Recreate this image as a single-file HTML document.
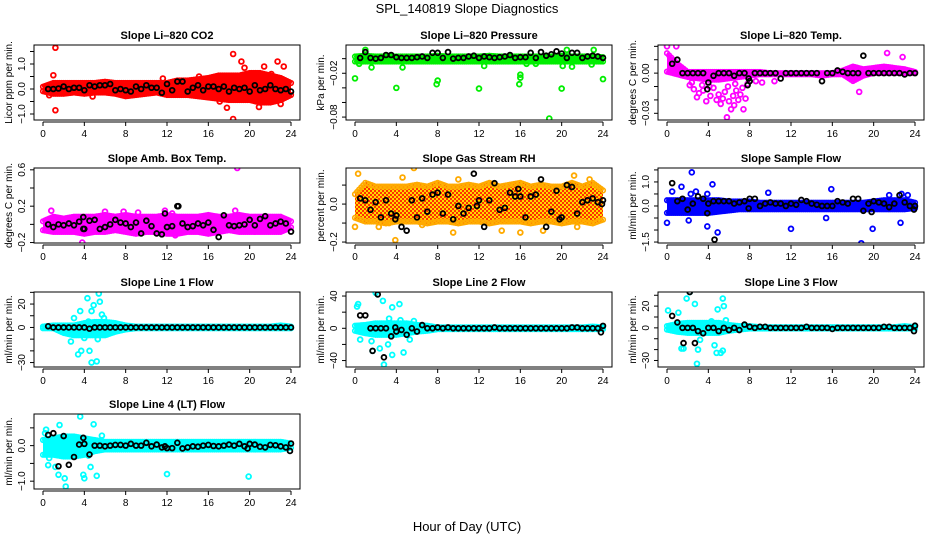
<!DOCTYPE html>
<html><head><meta charset="utf-8"><title>SPL_140819 Slope Diagnostics</title>
<style>
html,body{margin:0;padding:0;background:#fff;}
svg{display:block;font-family:"Liberation Sans",sans-serif;}
</style></head>
<body>
<svg id="chart" width="936" height="540" viewBox="0 0 936 540" xmlns="http://www.w3.org/2000/svg">
<defs>
<pattern id="rhpat" width="4" height="4" patternUnits="userSpaceOnUse">
<rect width="4" height="4" fill="#ffd800"/><rect width="2" height="2" fill="#ff3000"/><rect x="2" y="2" width="2" height="2" fill="#ff3000"/>
</pattern>
</defs>
<text x="467" y="13" text-anchor="middle" font-size="13">SPL_140819  Slope Diagnostics</text>
<text x="467" y="531" text-anchor="middle" font-size="13">Hour of Day (UTC)</text>
</svg>
<script>
const hours = [0,1,2,3,4,5,6,7,8,9,10,11,12,13,14,15,16,17,18,19,20,21,22,23,24];
const xTickLabels = ["0","4","8","12","16","20","24"];

const co2Lo = [-0.15,-0.25,-0.25,-0.2,-0.25,-0.2,-0.2,-0.25,-0.35,-0.3,-0.25,-0.2,-0.3,-0.3,-0.3,-0.35,-0.4,-0.45,-0.5,-0.5,-0.5,-0.6,-0.6,-0.5,-0.3];
const co2Hi = [0.15,0.3,0.3,0.3,0.3,0.3,0.35,0.3,0.3,0.3,0.3,0.3,0.3,0.4,0.4,0.45,0.5,0.6,0.6,0.6,0.7,0.7,0.6,0.5,0.3];
const co2Out = [[1.2,1.65],[1.2,-0.85],[1.0,0.55],[18.4,1.4],[18.4,-1.2],[17.8,-0.75],[19.2,1.1],[22.7,1.1],[21.4,0.9],[20.9,-0.72],[23.3,0.9],[11.6,0.42],[4.8,-0.3],[0.6,-0.25],[17.1,-0.5],[23.0,-0.6],[19.5,0.85],[15.1,0.5],[22.1,0.6],[18.1,-0.4]];
const co2Black = [0,0,0.02,0.1,0,0.05,0.05,-0.05,0.15,0.1,0.15,0.15,0.2,-0.05,0,-0.05,-0.1,0.1,0,0.15,0.05,0.05,-0.15,0.2,-0.05,0.3,0.3,-0.1,0.05,0.15,-0.05,0.1,0.1,0,0.1,-0.1,0.05,0,0.05,-0.1,0.15,-0.05,0,0.15,0,-0.05,0,-0.1];
const co2BlackX = [];

const presLo = [-0.006,-0.006,-0.006,-0.006,-0.006,-0.006,-0.006,-0.006,-0.006,-0.006,-0.006,-0.006,-0.006,-0.006,-0.006,-0.006,-0.006,-0.006,-0.006,-0.006,-0.006,-0.006,-0.006,-0.006,-0.006];
const presHi = [0.005,0.006,0.005,0.005,0.005,0.005,0.005,0.005,0.006,0.005,0.005,0.005,0.005,0.006,0.005,0.005,0.005,0.005,0.005,0.005,0.006,0.005,0.005,0.005,0.004];
const presOut = [[0,-0.027],[4,-0.04],[7.9,-0.035],[8,-0.03],[12,-0.041],[15.9,-0.035],[16,-0.026],[16,-0.022],[18.8,-0.082],[20,-0.041],[24,-0.028],[1,0.012],[20.5,0.012],[23.1,0.012],[1.6,-0.012],[4.6,-0.012],[12.5,-0.01],[20.1,-0.01],[21,-0.011],[22.9,-0.008],[0.4,-0.007],[16.6,-0.007],[17.5,-0.007]];
const presBlack = [0.001,0.009,0.001,0,0.001,0.005,0.005,0.002,0.001,0.001,0.001,0.002,0.003,0.001,0.008,0.008,0.001,0.009,0,0.001,0.001,0.003,0.004,0.001,0.003,0.002,0.001,0.002,0.003,0.005,0.001,0.002,0.002,0.008,0.001,0.009,0.004,0.006,0.01,0.007,0.001,0.008,0.008,0.001,0.003,0.004,0.003,0.001];
const presBlackX = [];

const tempLo = [0,-0.002,-0.004,-0.005,-0.006,-0.006,-0.005,-0.004,-0.003,-0.002,-0.002,-0.002,-0.002,-0.002,-0.002,-0.003,-0.002,-0.002,-0.007,-0.003,-0.001,-0.001,-0.001,-0.001,-0.001];
const tempHi = [0.016,0.008,0.002,0.002,0.002,0.002,0.002,0.002,0.002,0.002,0.001,0.001,0.001,0.001,0.001,0.001,0.001,0.003,0.006,0.004,0.005,0.006,0.005,0.004,0.002];
const tempOut = [[5.8,-0.033],[7.4,-0.027],[21.3,0.015],[0,0.02],[0.9,0.02],[3.8,-0.021],[6.5,-0.024],[2.9,-0.018],[18.6,-0.014],[22.8,0.012],
 [2.2,-0.009],[2.6,-0.012],[3.1,-0.015],[3.5,-0.013],[4.2,-0.017],[4.5,-0.011],[4.8,-0.02],[5.0,-0.016],[5.2,-0.023],[5.4,-0.019],[5.6,-0.014],[6.0,-0.021],[6.2,-0.027],[6.4,-0.017],[6.7,-0.013],[6.9,-0.02],[7.1,-0.016],[7.3,-0.011],[7.6,-0.019],[2.4,-0.007],[3.4,-0.009],[4.1,-0.01],[5.9,-0.01],[6.6,-0.008],[7.8,-0.008],[8.6,-0.006],[9.2,-0.007],[10.4,-0.006]];
const tempBlack = [0.007,0.01,0,0,0,0,0,-0.007,-0.002,0,0,0,-0.002,0,0,-0.006,0,0,0,0,0,-0.004,0,0,0,0,0,0,0,-0.006,0,0,0.002,0.001,0,0,0,0.013,0,0,0,0,0,0,0,-0.001,0,0];
const tempBlackX = [[3.9,-0.012],[7.8,-0.009],[7.9,-0.004]];

const ambLo = [-0.08,-0.1,-0.1,-0.1,-0.12,-0.1,-0.1,-0.08,-0.1,-0.12,-0.1,-0.1,-0.12,-0.12,-0.1,-0.1,-0.12,-0.1,-0.08,-0.1,-0.1,-0.1,-0.1,-0.1,-0.05];
const ambHi = [0.05,0.1,0.08,0.1,0.1,0.1,0.12,0.1,0.12,0.1,0.1,0.1,0.12,0.1,0.1,0.1,0.12,0.1,0.1,0.12,0.1,0.1,0.1,0.1,0.05];
const ambOut = [[18.8,0.62],[3.8,-0.2],[0.8,0.15],[6,0.14],[18.6,0.15],[12.8,-0.12],[7.8,0.14],[9.2,0.13],[11.8,0.15],[12.5,0.12]];
const ambBlack = [0,-0.03,0,-0.01,0.01,-0.01,0.03,-0.05,0.04,0.05,-0.05,-0.03,0,0.05,0.02,0.01,-0.03,0.02,-0.1,0.04,-0.02,-0.1,-0.11,-0.03,-0.02,0.2,0.01,-0.03,-0.02,0.01,-0.01,0.02,-0.06,-0.14,0.1,-0.01,-0.02,-0.01,0,0.05,-0.01,0.06,0.09,-0.01,0.01,0.03,0.01,-0.08];
const ambBlackX = [[3.9,0.08],[3.9,-0.05],[11.8,0.12],[13.1,0.2]];

const rhLo = [-0.08,-0.1,-0.1,-0.11,-0.1,-0.1,-0.1,-0.11,-0.1,-0.1,-0.11,-0.1,-0.1,-0.11,-0.1,-0.1,-0.1,-0.11,-0.1,-0.1,-0.11,-0.1,-0.1,-0.11,-0.09];
const rhHi = [0.06,0.12,0.1,0.1,0.1,0.1,0.11,0.1,0.12,0.1,0.1,0.11,0.1,0.12,0.1,0.11,0.12,0.1,0.11,0.1,0.1,0.12,0.1,0.12,0.08];
const rhOut = [[0.3,0.16],[5.7,0.19],[3.9,-0.19],[9.5,-0.15],[0,-0.12],[18.2,-0.14],[16,-0.15],[21.5,-0.12],[4.6,0.14],[10,0.13],[21.2,0.15],[22.7,0.13],[2.3,-0.12],[6.5,-0.11],[14.2,-0.14],[3.3,-0.1]];
const rhBlack = [0.03,0.02,-0.03,0.01,-0.07,0.02,-0.05,-0.06,-0.12,-0.14,0.02,-0.07,0.03,-0.04,0.05,0.06,-0.05,0.05,-0.08,-0.01,-0.05,-0.02,0.16,0.02,-0.12,0.02,0.11,-0.03,-0.02,0.06,0.04,0.04,-0.07,0.04,0.05,0.13,-0.12,-0.04,0.07,-0.07,0.1,0.09,-0.05,0.01,0.02,0.03,0.01,0.02];
const rhBlackX = [[3.9,-0.08],[11.8,-0.01],[15.8,0.08],[19.8,-0.08],[23.9,0]];

const flowLo = [-0.35,-0.35,-0.35,-0.35,-0.35,-0.3,-0.25,-0.2,-0.2,-0.2,-0.2,-0.2,-0.2,-0.2,-0.2,-0.2,-0.2,-0.2,-0.2,-0.2,-0.2,-0.2,-0.2,-0.2,-0.15];
const flowHi = [0.3,0.3,0.3,0.3,0.3,0.3,0.25,0.25,0.25,0.2,0.2,0.2,0.2,0.2,0.2,0.2,0.2,0.2,0.2,0.2,0.25,0.3,0.3,0.3,0.2];
const flowOut = [[2.7,1.7],[2.4,1.4],[4.4,0.9],[1.4,0.8],[0.5,0.6],[3.9,-0.85],[4.9,-1.1],[12,-0.95],[19.9,-0.95],[18.8,-1.55],[0,-0.7],[2.1,-0.6],[9.8,0.55],[15.9,0.7],[15.4,-0.5],[22.6,-0.7],[2.8,0.6],[2.3,0.5],[22.7,0.5],[3.9,0.5],[21.5,0.45],[23.3,0.45]];
const flowBlack = [0.95,0.2,0.3,-0.15,0.1,0.4,0.3,0.1,0.2,0.2,0.2,0.2,0.1,0.15,0.2,0.3,0.3,0,0.1,0.15,0.1,0.1,0,0.1,0.05,0.25,0.2,0.1,0.05,0,0,0,0.2,0.15,0.1,0.3,0.3,-0.2,0.1,0.2,0.15,0.1,-0.05,0.1,0.45,0.15,0,0];
const flowBlackX = [[4.6,-1.4],[3.9,-0.3],[7.9,-0.1],[19.8,-0.25],[23.9,-0.15]];

const l1Lo = [-2,-2,-6,-8,-8,-8,-8,-5,-3,-2,-2,-2,-2,-2,-2,-2,-2,-2,-2,-2,-2,-2,-2,-2,-2];
const l1Hi = [2,3,3,3,5,6,6,5,3,2,2,2,2,2,2,2,2,2,2,2,2,2,2,3,2];
const l1Out = [[5.4,29],[5.5,22],[4.3,25],[4.9,19],[3.6,14],[4.7,14],[3,8],[5.7,11],[3.4,-23],[3.7,-20],[4.5,-20],[4.7,-30],[5.2,-29],[5.3,-10],[2.7,-12],[4.0,-9],[6.2,-6],[5.9,8],[4.4,5]];
const l1Black = [1,0,0,0,0,0,0,0,-1,0,0,0,0,0,0,0,0,0,0,0,0,0,0,0,0,0,0,0,0,0,0,0,0,0,0,0,0,0,0,0,0,0,0,0,0,0,0,0];
const l1BlackX = [];

const l2Lo = [-5,-8,-10,-10,-10,-8,-6,-5,-3,-3,-3,-3,-3,-3,-3,-3,-3,-3,-3,-3,-3,-3,-3,-3,-3];
const l2Hi = [5,6,8,8,8,8,6,5,3,3,3,3,3,3,3,3,3,3,3,3,3,3,3,4,3];
const l2Out = [[0.2,27],[0.3,30],[2,44],[4.3,30],[3.6,26],[2.7,34],[3.3,12],[1.7,-28],[2.4,-25],[2.8,-45],[3.6,-33],[4.7,-30],[0.5,-14],[1.6,-16],[5.3,-14],[4.4,10],[5.7,9],[3.2,-20]];
const l2Black = [16,16,0,0,0,0,-10,-4,-2,-8,0,-4,4,0,0,1,0,1,0,0,0,0,0,0,0,0,1,0,0,0,0,0,0,0,0,0,0,0,0,0,0,1,1,0,0,0,0,3];
const l2BlackX = [[2.2,42],[2.8,-36],[1.7,-28],[23.8,-5],[3.9,1]];

const l3Lo = [-3,-5,-6,-6,-6,-6,-4,-3,-2,-2,-2,-2,-2,-2,-2,-2,-2,-2,-2,-2,-2,-2,-2,-2,-2];
const l3Hi = [3,5,6,6,6,6,4,3,3,2,2,2,2,2,2,2,2,2,2,2,2,2,2,3,2];
const l3Out = [[2.2,33],[1.9,27],[2.7,22],[0.1,16],[1.1,14],[5.4,27],[5.5,20],[4.9,17],[1.4,-19],[1.6,-19],[2.9,-33],[3.0,-20],[4.6,-16],[4.8,-23],[5.2,-23],[5.4,-21],[3.2,-11],[4.3,6],[5.7,7]];
const l3Black = [11,5,0,0,0,-3,-5,0,0,-3,0,-2,0,-2,3,1,0,1,1,0,0,0,0,0,0,0,1,0,0,0,0,-1,0,0,0,0,0,0,0,0,0,1,1,0,0,0,0,2];
const l3BlackX = [[2.2,33],[1.6,-14],[2.7,-14],[23.9,-3]];

const l4Lo = [-0.3,-0.3,-0.35,-0.35,-0.3,-0.2,-0.15,-0.15,-0.15,-0.15,-0.15,-0.15,-0.15,-0.15,-0.15,-0.15,-0.15,-0.15,-0.15,-0.15,-0.15,-0.15,-0.15,-0.15,-0.1];
const l4Hi = [0.2,0.25,0.3,0.3,0.25,0.2,0.15,0.15,0.15,0.15,0.15,0.15,0.15,0.15,0.15,0.15,0.15,0.15,0.15,0.15,0.15,0.15,0.15,0.15,0.1];
const l4Out = [[3.6,0.82],[4.9,0.6],[1.6,0.58],[0.3,0.45],[0.2,0.35],[2.2,-1.15],[1.5,-0.82],[2.1,-0.92],[3.9,-0.82],[4,-0.92],[5.2,-0.85],[12,-0.8],[19.9,-0.87],[0.5,-0.55],[0.6,-0.35],[4.6,-0.6],[1.2,-0.6],[4.4,-0.28],[5.7,0.28]];
const l4Black = [0.3,0.35,-0.58,0.27,-0.54,-0.32,0.03,0.05,-0.25,0,0,-0.02,0,0.02,0.02,0,0.05,0,0,0.08,-0.02,0.03,-0.05,-0.07,-0.07,0.08,-0.08,-0.05,-0.02,-0.03,0,0.02,-0.01,-0.02,0,0.03,0,0.05,-0.02,0.05,0.03,-0.03,-0.05,0.02,0.01,-0.02,-0.05,0.06];
const l4BlackX = [[3.9,0.22],[11.8,-0.02],[19.8,-0.08],[23.9,-0.15]];

const colLeft = [34, 346, 658];
const rowTop = [45, 168, 292, 414];
const boxW = 266, boxH = 75;

const panels = [
 {name:"co2", title:"Slope Li\u2013820 CO2", ylab:"Licor ppm per min.", col:0,row:0, dom:[-1.24,1.76], color:"#ff0000",
  ticks:[-1,-0.5,0,0.5,1,1.5], labels:{"-1":"\u22121.0","0":"0.0","1":"1.0"}, lo:co2Lo, hi:co2Hi, out:co2Out, blk:co2Black, blkx:co2BlackX},
 {name:"pressure", title:"Slope Li\u2013820 Pressure", ylab:"kPa per min.", col:1,row:0, dom:[-0.084,0.0187], color:"#00ee00",
  ticks:[0,-0.02,-0.04,-0.06,-0.08], labels:{"-0.02":"\u22120.02","-0.08":"\u22120.08"}, lo:presLo, hi:presHi, out:presOut, blk:presBlack, blkx:presBlackX},
 {name:"temp", title:"Slope Li\u2013820 Temp.", ylab:"degrees C per min.", col:2,row:0, dom:[-0.035,0.021], color:"#ff00ff",
  ticks:[0.02,0.01,0,-0.01,-0.02,-0.03], labels:{"0":"0.00","-0.03":"\u22120.03"}, lo:tempLo, hi:tempHi, out:tempOut, blk:tempBlack, blkx:tempBlackX},
 {name:"amb-box-temp", title:"Slope Amb. Box Temp.", ylab:"degrees C per min.", col:0,row:1, dom:[-0.205,0.62], color:"#ff00ff",
  ticks:[0.6,0.4,0.2,0,-0.2], labels:{"0.6":"0.6","0.2":"0.2","-0.2":"\u22120.2"}, lo:ambLo, hi:ambHi, out:ambOut, blk:ambBlack, blkx:ambBlackX},
 {name:"gas-stream-rh", title:"Slope Gas Stream RH", ylab:"percent per min.", col:1,row:1, dom:[-0.205,0.19], color:"#ffaa00", fill:"url(#rhpat)",
  ticks:[0.1,0,-0.1,-0.2], labels:{"0":"0.0","-0.2":"\u22120.2"}, lo:rhLo, hi:rhHi, out:rhOut, blk:rhBlack, blkx:rhBlackX},
 {name:"sample-flow", title:"Slope Sample Flow", ylab:"ml/min per min.", col:2,row:1, dom:[-1.54,1.58], color:"#0000ff",
  ticks:[1.5,1,0.5,0,-0.5,-1,-1.5], labels:{"1":"1.0","0":"0.0","-1.5":"\u22121.5"}, lo:flowLo, hi:flowHi, out:flowOut, blk:flowBlack, blkx:flowBlackX},
 {name:"line1-flow", title:"Slope Line 1 Flow", ylab:"ml/min per min.", col:0,row:2, dom:[-33.8,30.3], color:"#00ffff",
  ticks:[30,20,10,0,-10,-20,-30], labels:{"20":"20","0":"0","-30":"\u221230"}, lo:l1Lo, hi:l1Hi, out:l1Out, blk:l1Black, blkx:l1BlackX},
 {name:"line2-flow", title:"Slope Line 2 Flow", ylab:"ml/min per min.", col:1,row:2, dom:[-48,45], color:"#00ffff",
  ticks:[40,20,0,-20,-40], labels:{"40":"40","0":"0","-40":"\u221240"}, lo:l2Lo, hi:l2Hi, out:l2Out, blk:l2Black, blkx:l2BlackX},
 {name:"line3-flow", title:"Slope Line 3 Flow", ylab:"ml/min per min.", col:2,row:2, dom:[-36,33], color:"#00ffff",
  ticks:[30,20,10,0,-10,-20,-30], labels:{"20":"20","0":"0","-30":"\u221230"}, lo:l3Lo, hi:l3Hi, out:l3Out, blk:l3Black, blkx:l3BlackX},
 {name:"line4-flow", title:"Slope Line 4 (LT) Flow", ylab:"ml/min per min.", col:0,row:3, dom:[-1.22,0.89], color:"#00ffff",
  ticks:[0.5,0,-0.5,-1], labels:{"0":"0.0","-1":"\u22121.0"}, lo:l4Lo, hi:l4Hi, out:l4Out, blk:l4Black, blkx:l4BlackX}
];

const NS = "http://www.w3.org/2000/svg";
const svg = document.getElementById("chart");
function mk(tag, attrs, parent){ const e=document.createElementNS(NS,tag); for(const k in attrs) e.setAttribute(k,attrs[k]); parent.appendChild(e); return e; }
function interp(arr, h){ const i=Math.min(23,Math.floor(h)); const t=h-i; return arr[i]*(1-t)+arr[i+1]*t; }

panels.forEach(p => {
  const L = colLeft[p.col], T = rowTop[p.row], B = T+boxH, R = L+boxW;
  const x0 = L+9, x1 = L+257;
  const xs = h => x0 + (h/24)*(x1-x0);
  const ys = v => B - (v-p.dom[0])/(p.dom[1]-p.dom[0])*boxH;

  const g = mk("g",{},svg);
  
  

  const clip = mk("clipPath",{id:"clip-"+p.name},g);
  mk("rect",{x:L,y:T,width:boxW,height:boxH},clip);
  const plot = mk("g",{"clip-path":"url(#clip-"+p.name+")"},g);
  
  

  let pts=[];
  hours.forEach((h,i)=>pts.push(xs(h)+","+ys(p.hi[i])));
  for(let i=hours.length-1;i>=0;i--) pts.push(xs(hours[i])+","+ys(p.lo[i]));
  const band = mk("polygon",{points:pts.join(" "),fill:p.fill||p.color,stroke:"none"},plot);
  
  
  const edge = mk("g",{fill:"none",stroke:p.color,"stroke-width":1.6},plot);
  
  
  for(let h=0; h<=24.001; h+=0.2){
    mk("circle",{cx:xs(h),cy:ys(interp(p.hi,Math.min(h,24)))+1.5,r:2.3},edge);
    mk("circle",{cx:xs(h),cy:ys(interp(p.lo,Math.min(h,24)))-1.5,r:2.3},edge);
  }
  p.out.forEach(o=>{
    const c = mk("circle",{cx:xs(o[0]),cy:ys(o[1]),r:2.4,fill:"none",stroke:p.color,"stroke-width":1.8},plot);
    
    
  });
  p.blk.forEach((v,i)=>{
    const c = mk("circle",{cx:xs(0.5+i*0.5),cy:ys(v),r:2.4,fill:"none",stroke:"#000","stroke-width":1.8},plot);
    
    
  });
  p.blkx.forEach(o=>{
    const c = mk("circle",{cx:xs(o[0]),cy:ys(o[1]),r:2.4,fill:"none",stroke:"#000","stroke-width":1.8},plot);
    
    
  });

  const box = mk("rect",{x:L,y:T,width:boxW,height:boxH,fill:"none",stroke:"#000","stroke-width":1},g);
  
  

  const t = mk("text",{x:(L+R)/2,y:T-6,"text-anchor":"middle","font-size":11,"font-weight":"bold"},g);
  t.textContent = p.title;
  
  

  const xa = mk("g",{stroke:"#000","stroke-width":1},g);
  
  
  mk("line",{x1:x0,y1:B+2,x2:x1,y2:B+2},xa);
  xTickLabels.forEach((lab,i)=>{
    const h=i*4;
    mk("line",{x1:xs(h),y1:B+2,x2:xs(h),y2:B+6},xa);
    const tx = mk("text",{x:xs(h),y:B+17,"text-anchor":"middle","font-size":10,stroke:"none",fill:"#000"},xa);
    tx.textContent = lab;
    
    
  });

  const ya = mk("g",{stroke:"#000","stroke-width":1},g);
  
  
  p.ticks.forEach(v=>{
    const y=ys(v);
    mk("line",{x1:L-4,y1:y,x2:L,y2:y},ya);
    const key=String(v);
    if(p.labels[key]!==undefined){
      const tx = mk("text",{x:0,y:0,transform:"translate("+(L-9)+","+y+") rotate(-90)","text-anchor":"middle","font-size":10,stroke:"none",fill:"#000"},ya);
      tx.textContent = p.labels[key];
      
      
    }
  });
  const yl = mk("text",{x:0,y:0,transform:"translate("+(L-22)+","+((T+B)/2)+") rotate(-90)","text-anchor":"middle","font-size":10},g);
  yl.textContent = p.ylab;
  
  
});
</script>
</body></html>
